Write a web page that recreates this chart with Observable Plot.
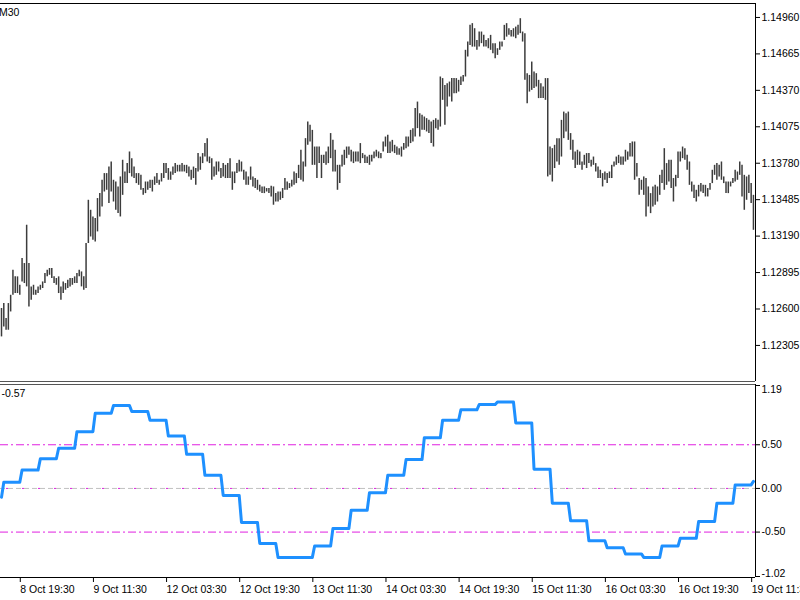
<!DOCTYPE html>
<html><head><meta charset="utf-8">
<script src="https://cdn.jsdelivr.net/npm/d3@7"></script>
<script src="https://cdn.jsdelivr.net/npm/@observablehq/plot@0.6"></script>
<style>
body{margin:0;background:#fff;}
#wrap{position:relative;width:800px;height:600px;overflow:hidden;background:#fff;}
#top,#bot{position:absolute;left:0;}
#top{top:0}
#bot{top:383px}
svg{display:block}
</style></head><body><div id="wrap"><div id="top"></div><div id="bot"></div></div>
<script>
// ---------- DATA ----------
const timeframe = "M30";
const oscLabel = "-0.57";
// bar highs / lows (EURUSD M30), one per bar, oldest first
const highs = [
1.12604,1.12644,1.12523,1.12644,1.12711,1.12914,1.12860,1.12860,1.12792,1.13008,
1.12968,1.13278,1.12968,1.12779,1.12792,1.12752,1.12779,1.12792,1.12819,1.12887,
1.12914,1.12928,1.12928,1.12860,1.12847,1.12860,1.12779,1.12819,1.12806,1.12833,
1.12847,1.12847,1.12860,1.12887,1.12914,1.12900,1.12860,1.13130,1.13480,1.13399,
1.13345,1.13332,1.13494,1.13534,1.13642,1.13696,1.13696,1.13749,1.13790,1.13642,
1.13628,1.13588,1.13669,1.13804,1.13709,1.13777,1.13871,1.13817,1.13749,1.13696,
1.13696,1.13682,1.13575,1.13628,1.13628,1.13642,1.13642,1.13669,1.13696,1.13642,
1.13696,1.13777,1.13777,1.13737,1.13709,1.13749,1.13777,1.13763,1.13763,1.13777,
1.13763,1.13763,1.13749,
1.13723,1.13749,1.13737,1.13858,1.13830,1.13858,1.13939,1.13979,1.13830,1.13817,
1.13749,1.13790,1.13790,1.13737,1.13777,1.13763,1.13777,1.13817,1.13709,1.13709,
1.13777,1.13804,1.13790,1.13723,1.13709,1.13669,1.13749,1.13669,1.13656,1.13642,
1.13601,1.13588,1.13588,1.13575,1.13575,1.13593,1.13588,1.13534,1.13547,1.13547,
1.13575,1.13656,1.13628,1.13615,1.13642,1.13709,1.13696,1.13763,1.13885,1.13790,
1.13979,1.14113,1.14087,1.14046,1.13911,1.13911,1.13911,1.13844,1.13844,1.13871,
1.13911,1.14020,1.13965,1.13885,1.13763,1.13763,1.13844,1.13885,1.13911,1.13911,
1.13885,1.13871,1.13871,1.13871,1.13939,1.13858,1.13844,1.13830,1.13844,1.13844,
1.13871,1.13885,1.13871,1.13858,1.13952,1.13992,1.14006,1.13952,1.13965,1.13925,
1.13911,1.13898,1.13911,1.13939,1.13992,1.13992,1.14046,1.14060,1.14222,1.14275,
1.14181,1.14168,1.14154,1.14141,1.14127,1.14113,1.14127,1.14141,1.14127,1.14478,
1.14465,1.14410,1.14424,1.14437,1.14465,1.14465,1.14465,1.14451,1.14478,1.14491,
1.14694,1.14761,1.14896,1.14910,1.14869,1.14774,1.14842,1.14842,1.14815,1.14774,
1.14788,1.14815,1.14748,1.14748,1.14707,1.14761,1.14761,1.14896,1.14910,1.14869,
1.14855,1.14869,1.14882,1.14896,1.14950,1.14842,1.14829,1.14505,1.14491,1.14599,
1.14518,1.14505,1.14451,1.14424,1.14397,1.14465,1.14465,1.13911,1.13898,1.13925,
1.13979,1.13979,
1.14127,1.14194,1.14181,1.14194,1.14020,1.13965,1.13871,1.13885,1.13871,1.13790,
1.13844,1.13858,1.13858,1.13804,1.13830,1.13777,1.13749,1.13723,1.13696,1.13709,
1.13696,1.13709,1.13763,1.13790,1.13830,1.13844,1.13830,1.13830,1.13885,1.13871,
1.13939,1.13952,1.13952,1.13777,1.13656,1.13642,1.13669,1.13656,1.13588,1.13534,
1.13588,1.13601,1.13588,1.13682,1.13723,1.13898,1.13777,1.13804,1.13804,1.13656,
1.13682,1.13871,1.13871,1.13911,1.13898,1.13844,1.13790,1.13628,1.13601,1.13561,
1.13601,1.13615,1.13601,1.13601,1.13575,1.13615,1.13723,1.13763,1.13777,1.13763,
1.13790,1.13669,1.13628,1.13628,1.13628,1.13656,1.13723,1.13709,1.13790,1.13763,
1.13682,1.13669,1.13682,1.13615,1.13520
];
const lows = [
1.12374,1.12455,1.12428,1.12428,1.12576,1.12711,1.12725,1.12725,1.12711,1.12819,
1.12806,1.12779,1.12617,1.12671,1.12711,1.12711,1.12725,1.12752,1.12766,1.12806,
1.12860,1.12873,1.12847,1.12806,1.12792,1.12725,1.12671,1.12725,1.12752,1.12766,
1.12779,1.12792,1.12806,1.12806,1.12860,1.12779,1.12752,1.12766,1.13130,1.13183,
1.13156,1.13143,1.13224,1.13345,1.13426,1.13547,1.13561,1.13453,1.13547,1.13466,
1.13399,1.13372,1.13345,1.13520,1.13615,1.13615,1.13696,1.13669,1.13656,1.13615,
1.13601,1.13561,1.13520,1.13534,1.13561,1.13575,1.13547,1.13601,1.13615,1.13601,
1.13628,1.13656,1.13696,1.13642,1.13642,1.13682,1.13696,1.13709,1.13709,1.13709,
1.13709,1.13696,1.13669,
1.13642,1.13656,1.13601,1.13709,1.13723,1.13777,1.13830,1.13790,1.13777,1.13642,
1.13669,1.13682,1.13709,1.13656,1.13669,1.13656,1.13656,1.13656,1.13561,1.13615,
1.13696,1.13709,1.13709,1.13642,1.13601,1.13601,1.13642,1.13588,1.13575,1.13561,
1.13547,1.13534,1.13534,1.13547,1.13534,1.13507,1.13440,1.13466,1.13466,1.13480,
1.13494,1.13561,1.13561,1.13575,1.13588,1.13601,1.13615,1.13656,1.13642,1.13628,
1.13749,1.13925,1.13952,1.13763,1.13763,1.13656,1.13777,1.13656,1.13777,1.13763,
1.13777,1.13817,1.13709,1.13709,1.13561,1.13615,1.13749,1.13763,1.13817,1.13844,
1.13790,1.13777,1.13790,1.13790,1.13777,1.13817,1.13777,1.13777,1.13763,1.13790,
1.13817,1.13830,1.13817,1.13817,1.13871,1.13911,1.13858,1.13858,1.13871,1.13858,
1.13844,1.13844,1.13830,1.13885,1.13898,1.13911,1.13939,1.13952,1.13992,1.14060,
1.13992,1.14046,1.14046,1.14033,1.14020,1.13939,1.13911,1.14060,1.14046,1.14073,
1.14289,1.14087,1.14235,1.14316,1.14275,1.14343,1.14343,1.14356,1.14410,1.14437,
1.14478,1.14639,1.14734,1.14720,1.14720,1.14694,1.14720,1.14748,1.14720,1.14720,
1.14707,1.14694,1.14667,1.14626,1.14653,1.14694,1.14720,1.14774,1.14801,1.14815,
1.14801,1.14801,1.14788,1.14815,1.14829,1.14761,1.14451,1.14262,1.14356,1.14370,
1.14384,1.14397,1.14303,1.14303,1.14303,1.14289,1.13669,1.13682,1.13628,1.13737,
1.13790,1.13763,
1.13830,1.13979,1.14033,1.13965,1.13885,1.13804,1.13737,1.13763,1.13763,1.13723,
1.13763,1.13737,1.13777,1.13749,1.13763,1.13709,1.13656,1.13656,1.13588,1.13642,
1.13615,1.13656,1.13656,1.13749,1.13763,1.13777,1.13763,1.13763,1.13790,1.13804,
1.13830,1.13830,1.13642,1.13669,1.13520,1.13561,1.13520,1.13345,1.13426,1.13372,
1.13426,1.13440,1.13466,1.13520,1.13615,1.13561,1.13601,1.13628,1.13575,1.13466,
1.13588,1.13656,1.13790,1.13817,1.13804,1.13723,1.13601,1.13547,1.13494,1.13466,
1.13507,1.13547,1.13534,1.13507,1.13507,1.13561,1.13615,1.13682,1.13642,1.13669,
1.13642,1.13615,1.13534,1.13534,1.13588,1.13615,1.13628,1.13642,1.13682,1.13507,
1.13399,1.13480,1.13534,1.13453,1.13237
];
// indicator value per 4-hour block (block 0 = first bar only, then 8 bars per block)
const oscBlocks = [
-0.10, 0.07, 0.21, 0.34, 0.46, 0.65, 0.86, 0.95, 0.88, 0.78,
 0.60, 0.39, 0.15,-0.08,-0.39,-0.63,-0.79,-0.79,-0.66,-0.46,
-0.25,-0.05, 0.15, 0.33, 0.58, 0.78, 0.90, 0.96, 0.99, 0.75,
 0.22,-0.17,-0.37,-0.60,-0.68,-0.75,-0.79,-0.66,-0.57,-0.38,
-0.17, 0.04, 0.08
];
const levels = [0.5, -0.5];
const zeroLevel = [0];
const priceTicks = [1.14960,1.14665,1.14370,1.14075,1.13780,1.13485,1.13190,1.12895,1.12600,1.12305];
const priceDomain = [1.12013, 1.15073];
const oscTicks = [0.5, 0, -0.5];
const oscRange = [-1.02, 1.19];
const timeTickIdx = [8,40,72,104,136,168,200,232,264,296,328];
const timeTickLabels = ["8 Oct 19:30","9 Oct 11:30","12 Oct 03:30","12 Oct 19:30","13 Oct 11:30","14 Oct 03:30","14 Oct 19:30","15 Oct 11:30","16 Oct 03:30","16 Oct 19:30","19 Oct 11:30"];
const xDomain = [-0.44, 329.9];

// ---------- BUILD ----------
const bars = highs.map((h, i) => ({i, high: h, low: lows[i]}));
const osc = d3.range(highs.length).map(i => ({i, v: oscBlocks[i === 0 ? 0 : Math.ceil(i / 8)]}));
const FONT = "'Liberation Sans', Arial, sans-serif";
const style = {fontFamily: FONT, fontSize: "10.5px", color: "#000", background: "#fff", overflow: "visible"};

const topPlot = Plot.plot({
  width: 800, height: 383,
  marginLeft: 0, marginRight: 45, marginTop: 3, marginBottom: 2,
  style,
  x: {domain: xDomain, axis: null, label: null},
  y: {domain: priceDomain, label: null},
  marks: [
    Plot.ruleX(bars, {x: "i", y1: "low", y2: "high", stroke: "#3c3c3c", strokeWidth: 1.5}),
    Plot.ruleY([priceDomain[1]], {stroke: "#000", strokeWidth: 1.2}),
    Plot.ruleY([priceDomain[0]], {stroke: "#555", strokeWidth: 1}),
    Plot.ruleX([xDomain[1]], {stroke: "#000", strokeWidth: 1}),
    Plot.axisY({anchor: "right", ticks: priceTicks, tickFormat: d => d.toFixed(5), tickSize: 4, tickPadding: 2, fontSize: 10.5, label: null}),
    Plot.text([timeframe], {frameAnchor: "top-left", dx: -1.5, dy: 5, lineAnchor: "top", textAnchor: "start", fontSize: 10.5, fill: "#000"})
  ]
});
document.getElementById("top").append(topPlot);

const botPlot = Plot.plot({
  width: 800, height: 217,
  marginLeft: 0, marginRight: 45, marginTop: 1, marginBottom: 23,
  style,
  x: {domain: xDomain, label: null, axis: null},
  y: {domain: oscRange, label: null},
  marks: [
    Plot.ruleY(zeroLevel, {stroke: "#c0c0c0", strokeWidth: 1, strokeDasharray: "5,3"}),
    Plot.ruleY(zeroLevel, {stroke: "#e020e0", strokeWidth: 1, strokeDasharray: "2,14", strokeDashoffset: -6}),
    Plot.ruleY(levels, {stroke: "#e020e0", strokeWidth: 1, strokeDasharray: "8,3,2,3"}),
    Plot.line(osc, {x: "i", y: "v", stroke: "#1e90ff", strokeWidth: 3, strokeLinejoin: "round", strokeLinecap: "round"}),
    Plot.ruleY([oscRange[1]], {stroke: "#555", strokeWidth: 1}),
    Plot.ruleY([oscRange[0]], {stroke: "#000", strokeWidth: 1}),
    Plot.ruleX([xDomain[1]], {stroke: "#000", strokeWidth: 1}),
    Plot.axisY({anchor: "right", ticks: oscTicks, tickFormat: d => d.toFixed(2), tickSize: 4, tickPadding: 2, fontSize: 10.5, label: null}),
    Plot.axisY({anchor: "right", ticks: [oscRange[1]], tickFormat: d => d.toFixed(2), tickSize: 4, tickPadding: 2, fontSize: 10.5, lineAnchor: "top", dy: 1, label: null}),
    Plot.axisY({anchor: "right", ticks: [oscRange[0]], tickFormat: d => d.toFixed(2), tickSize: 4, tickPadding: 2, fontSize: 10.5, lineAnchor: "bottom", dy: -1, label: null}),
    Plot.axisX({anchor: "bottom", ticks: timeTickIdx, tickFormat: d => timeTickLabels[timeTickIdx.indexOf(d)], tickSize: 5, tickPadding: 3, textAnchor: "start", dx: 0.5, fontSize: 10.5, label: null}),
    Plot.text([oscLabel], {frameAnchor: "top-left", dx: 1, dy: 5, lineAnchor: "top", textAnchor: "start", fontSize: 10.5, fill: "#000"})
  ]
});
document.getElementById("bot").append(botPlot);
</script></body></html>
